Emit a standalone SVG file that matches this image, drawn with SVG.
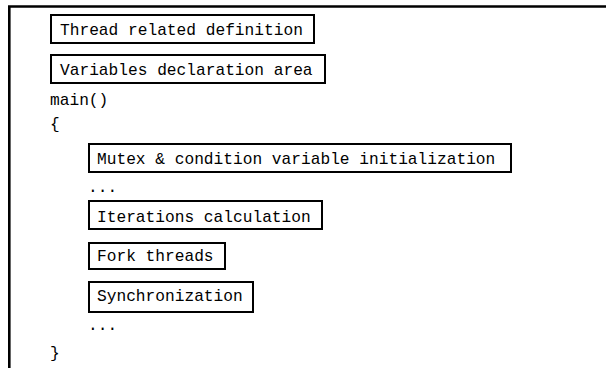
<svg xmlns="http://www.w3.org/2000/svg" width="606" height="368" viewBox="0 0 606 368">
<style>
.t{font-family:"Liberation Mono","DejaVu Sans Mono",monospace;font-size:16.2px;fill:#000}
.b{fill:#fff;stroke:#000;stroke-width:2}
.f{fill:none;stroke:#000;stroke-width:2.6}
</style>
<rect width="606" height="368" fill="#fff"/>
<g id="frame">
<path class="f" d="M9.3,368 V6.5 H606"/>
</g>
<g id="connectors"></g>
<g id="thread-def"><rect class="b" x="51" y="15" width="263" height="28"/><text class="t" x="60" y="35">Thread related definition</text></g>
<g id="vars-decl"><rect class="b" x="51" y="55" width="274" height="28"/><text class="t" x="60" y="75">Variables declaration area</text></g>
<g id="main"><text class="t" x="50" y="105">main()</text></g>
<g id="open-brace"><text class="t" x="50" y="129">{</text></g>
<g id="mutex-init"><rect class="b" x="89" y="144" width="422" height="28"/><text class="t" x="97" y="164">Mutex &amp; condition variable initialization</text></g>
<g id="dots1"><text class="t" x="88" y="192">...</text></g>
<g id="iterations"><rect class="b" x="89" y="201" width="233" height="28"/><text class="t" x="97" y="222">Iterations calculation</text></g>
<g id="fork"><rect class="b" x="89" y="243" width="136" height="26"/><text class="t" x="97" y="261">Fork threads</text></g>
<g id="sync"><rect class="b" x="89" y="282" width="164" height="30"/><text class="t" x="97" y="301">Synchronization</text></g>
<g id="dots2"><text class="t" x="88" y="330">...</text></g>
<g id="close-brace"><text class="t" x="50" y="358">}</text></g>
</svg>
